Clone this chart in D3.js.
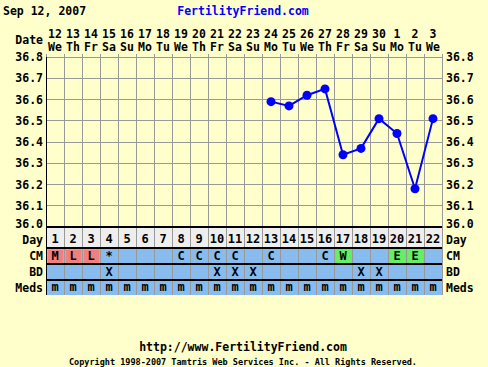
<!DOCTYPE html>
<html>
<head>
<meta charset="utf-8">
<script src="https://cdn.jsdelivr.net/npm/d3@7"></script>
<style>
  body { margin: 0; background: #FFFFCC; }
  text { font-family: "DejaVu Sans Mono", monospace; font-weight: bold; }
</style>
</head>
<body>
<svg id="rootSVG" width="488" height="367"></svg>
<script>
// chart data
const days = d3.range(1, 23);
const dates = ["12","13","14","15","16","17","18","19","20","21","22","23","24","25","26","27","28","29","30","1","2","3"];
const weekdays = ["We","Th","Fr","Sa","Su","Mo","Tu","We","Th","Fr","Sa","Su","Mo","Tu","We","Th","Fr","Sa","Su","Mo","Tu","We"];
const temps = [null,null,null,null,null,null,null,null,null,null,null,null,
  36.59, 36.57, 36.62, 36.65, 36.34, 36.37, 36.51, 36.44, 36.18, 36.51];
const cm = ["M","L","L","*","","","","C","C","C","C","","C","","","C","W","","","E","E",""];
const bd = ["","","","X","","","","","","X","X","X","","","","","","X","X","","",""];
const meds = days.map(() => "m");
const yTicks = [36.0, 36.1, 36.2, 36.3, 36.4, 36.5, 36.6, 36.7, 36.8];

const svg = d3.select("#rootSVG");
const plotLeft = 46, plotRight = 442, plotTop = 57, plotBottom = 227;

const x = d3.scaleBand().domain(days).range([plotLeft, plotRight]);
const y = d3.scaleLinear().domain([36.0, 36.8]).range([plotBottom, plotTop]);
const cx = d => x(d) + x.bandwidth() / 2;

svg.append("rect").attr("width", 488).attr("height", 367).attr("fill", "#FFFFCC");

// header
svg.append("text").attr("x", 3).attr("y", 15).attr("font-size", 11.5).attr("fill", "#000").text("Sep 12, 2007");
svg.append("text").attr("x", 243).attr("y", 15).attr("font-size", 11.5).attr("fill", "#0000FF")
  .attr("text-anchor", "middle").text("FertilityFriend.com");
svg.append("text").attr("x", 43).attr("y", 44).attr("font-size", 11.5).attr("text-anchor", "end").text("Date");

svg.selectAll(".date").data(days).enter().append("text")
  .attr("x", cx).attr("y", 38).attr("font-size", 11.5).attr("text-anchor", "middle")
  .text((d, i) => dates[i]);
svg.selectAll(".wday").data(days).enter().append("text")
  .attr("x", cx).attr("y", 51).attr("font-size", 11.5).attr("text-anchor", "middle")
  .text((d, i) => weekdays[i]);

// table rows
const rows = [
  {name: "Day", y0: 227, y1: 248, fill: "#EEEEEE"},
  {name: "CM", y0: 248, y1: 264, fill: "#88BBEE"},
  {name: "BD", y0: 264, y1: 280, fill: "#88BBEE"},
  {name: "Meds", y0: 280, y1: 295, fill: "#88BBEE"}
];
svg.selectAll(".row").data(rows).enter().append("rect")
  .attr("x", plotLeft).attr("y", d => d.y0).attr("width", plotRight - plotLeft).attr("height", d => d.y1 - d.y0)
  .attr("fill", d => d.fill);

// coloured CM cells
const cmFill = {M: "#F08080", L: "#F08080", W: "#66EE66", E: "#66EE66"};
svg.selectAll(".cmcell").data(days.filter((d, i) => cmFill[cm[i]])).enter().append("rect")
  .attr("x", d => x(d) + 2).attr("y", 250).attr("width", x.bandwidth() - 3).attr("height", 13)
  .attr("fill", d => cmFill[cm[d - 1]]);

// grid
svg.selectAll(".hgrid").data(yTicks.slice(1)).enter().append("line")
  .attr("x1", plotLeft).attr("x2", plotRight).attr("y1", d => y(d)).attr("y2", d => y(d))
  .attr("stroke", "#999999").attr("stroke-width", 1).attr("shape-rendering", "crispEdges");
const edges = days.map(d => x(d)).concat([plotRight]);
svg.selectAll(".vgrid").data(edges).enter().append("line")
  .attr("x1", d => d).attr("x2", d => d)
  .attr("y1", plotTop - 3).attr("y2", 295)
  .attr("stroke", "#999999").attr("stroke-width", 1).attr("shape-rendering", "crispEdges");

// black borders
svg.append("line").attr("x1", plotLeft).attr("x2", plotLeft).attr("y1", plotTop).attr("y2", 295)
  .attr("stroke", "#000").attr("shape-rendering", "crispEdges");
[227, 248, 264, 280].forEach(v => {
  svg.append("line").attr("x1", plotLeft).attr("x2", plotRight).attr("y1", v).attr("y2", v)
    .attr("stroke", "#000").attr("stroke-width", 2).attr("shape-rendering", "crispEdges");
});

// axis labels (bottom one sits a little higher, as in the original)
const labY = d => y(d) + (d === 36.0 ? 1 : 4);
svg.selectAll(".ylab").data(yTicks).enter().append("text")
  .attr("x", 43).attr("y", labY).attr("font-size", 11.5).attr("text-anchor", "end")
  .text(d => d.toFixed(1));
svg.selectAll(".ylabr").data(yTicks).enter().append("text")
  .attr("x", 446).attr("y", labY).attr("font-size", 11.5)
  .text(d => d.toFixed(1));
const rowY = d => d.name === "Day" ? 244 : (d.y0 + d.y1) / 2 + 4;
svg.selectAll(".rowl").data(rows).enter().append("text")
  .attr("x", 43).attr("y", rowY).attr("font-size", 11.5).attr("text-anchor", "end")
  .text(d => d.name);
svg.selectAll(".rowr").data(rows).enter().append("text")
  .attr("x", 446).attr("y", rowY).attr("font-size", 11.5)
  .text(d => d.name);

// table text
svg.selectAll(".dnum").data(days).enter().append("text")
  .attr("x", cx).attr("y", 243).attr("font-size", 12).attr("text-anchor", "middle").text(d => d);
svg.selectAll(".cmt").data(days).enter().append("text")
  .attr("x", cx).attr("y", 260).attr("font-size", 12).attr("text-anchor", "middle").text((d, i) => cm[i]);
svg.selectAll(".bdt").data(days).enter().append("text")
  .attr("x", cx).attr("y", 276).attr("font-size", 12).attr("font-weight", "normal")
  .attr("text-anchor", "middle").text((d, i) => bd[i]);
svg.selectAll(".medt").data(days).enter().append("text")
  .attr("x", cx).attr("y", 291).attr("font-size", 12).attr("text-anchor", "middle").text((d, i) => meds[i]);

// temperature line
const pts = days.map((d, i) => ({day: d, t: temps[i]})).filter(p => p.t !== null);
const line = d3.line().x(p => cx(p.day)).y(p => y(p.t));
svg.append("path").datum(pts).attr("d", line)
  .attr("fill", "none").attr("stroke", "#0000FF").attr("stroke-width", 2);
svg.selectAll(".dot").data(pts).enter().append("circle")
  .attr("cx", p => cx(p.day)).attr("cy", p => y(p.t)).attr("r", 4.5).attr("fill", "#0000FF");

// footer
svg.append("text").attr("x", 243).attr("y", 351).attr("font-size", 11.5).attr("text-anchor", "middle")
  .text("http://www.FertilityFriend.com");
svg.append("text").attr("x", 243).attr("y", 365).attr("font-size", 8.5).attr("font-weight", "normal")
  .attr("text-anchor", "middle").text("Copyright 1998-2007 Tamtris Web Services Inc. - All Rights Reserved.");
</script>
</body>
</html>
